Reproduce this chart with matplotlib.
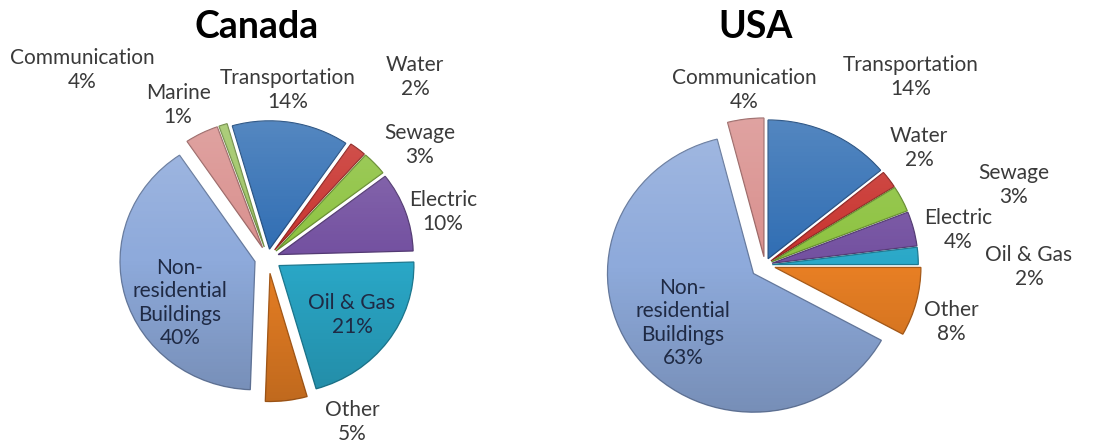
import numpy as np
import matplotlib
matplotlib.use("Agg")
import matplotlib.pyplot as plt

plt.rcParams['font.family'] = ['Lato', 'DejaVu Sans']

# data (clockwise from the top)
canada_labels = ["Transportation", "Water", "Sewage", "Electric", "Oil & Gas",
                 "Other", "Non-\nresidential\nBuildings", "Communication", "Marine"]
canada_values = [14, 2, 3, 10, 21, 5, 40, 4, 1]

usa_labels = ["Transportation", "Water", "Sewage", "Electric", "Oil & Gas",
              "Other", "Non-\nresidential\nBuildings", "Communication"]
usa_values = [14, 2, 3, 4, 2, 8, 63, 4]

colors = {"Transportation": "#2f6db3", "Water": "#c8312c", "Sewage": "#8cc23e",
          "Electric": "#7350a0", "Oil & Gas": "#2aa8c8", "Other": "#e87f24",
          "Non-\nresidential\nBuildings": "#8eaadb", "Communication": "#d98f8d",
          "Marine": "#9cc460"}

W, H = 1112, 447
SQ = 0.95   # pies look a little flattened (3d tilt)

fig = plt.figure(figsize=(W / 100, H / 100), dpi=100)
ax = fig.add_axes([0, 0, 1, 1])


def py(y):
    # pixel row from the top -> data y
    return (H - y) / SQ


def darker(c, f=0.72):
    r, g, b = matplotlib.colors.to_rgb(c)
    return (r * f, g * f, b * f)


# soft light-to-dark overlay, gives a bit of the 3d look of the original
t = np.linspace(0, 1, 200)[:, None]
shade = np.zeros((200, 1, 4))
shade[..., :3] = np.where(t < 0.5, 1.0, 0.0)[..., None]
shade[..., 3] = np.where(t < 0.5, 0.22 * (0.5 - t) * 2, 0.2 * (t - 0.5) * 2)


def draw_pie(values, labels, center, radius, start, explode, label_pos, inside):
    cols = [colors[l] for l in labels]
    cx, cy = center[0], py(center[1])
    # explode is in data units, so scale it by the radius
    wedges, _ = ax.pie(values, colors=cols, startangle=start, counterclock=False,
                       explode=[e * radius for e in explode], center=(cx, cy),
                       radius=radius, frame=True, wedgeprops=dict(linewidth=0.9))
    for w, c in zip(wedges, cols):
        w.set_edgecolor(darker(c))
        im = ax.imshow(shade, extent=(cx - radius * 1.3, cx + radius * 1.3,
                                      cy - radius * 1.3, cy + radius * 1.3),
                       aspect="auto", zorder=w.get_zorder() + 0.1, interpolation="bilinear")
        im.set_clip_path(w)
    for lab, v, (x, y) in zip(labels, values, label_pos):
        col = "#1f2a44" if lab in inside else "#3a3a3a"
        ax.text(x, py(y), f"{lab}\n{v}%", ha="center", va="center",
                fontsize=15, color=col, linespacing=1.2, zorder=5)


canada_pos = [(288, 90), (415, 77), (420, 145), (443, 212), (352, 315),
              (352, 422), (180, 303), (82, 70), (178, 105)]
draw_pie(canada_values, canada_labels, (268, 258), 135, 106,
         [0.07, 0.08, 0.08, 0.08, 0.1, 0.12, 0.1, 0.09, 0.09],
         canada_pos, ["Oil & Gas", "Non-\nresidential\nBuildings"])

usa_pos = [(911, 77), (919, 148), (1014, 185), (958, 230), (1029, 267),
           (951, 322), (683, 323), (744, 90)]
draw_pie(usa_values, usa_labels, (765, 265), 146, 90,
         [0.05, 0.05, 0.05, 0.05, 0.05, 0.07, 0.1, 0.06],
         usa_pos, ["Non-\nresidential\nBuildings"])

ax.text(257, py(27), "Canada", ha="center", va="center", fontsize=27, fontweight="bold")
ax.text(756, py(27), "USA", ha="center", va="center", fontsize=27, fontweight="bold")

ax.set_aspect("auto")
ax.set_xlim(0, W)
ax.set_ylim(0, H / SQ)
ax.axis("off")

plt.savefig("out.png", dpi=100)
